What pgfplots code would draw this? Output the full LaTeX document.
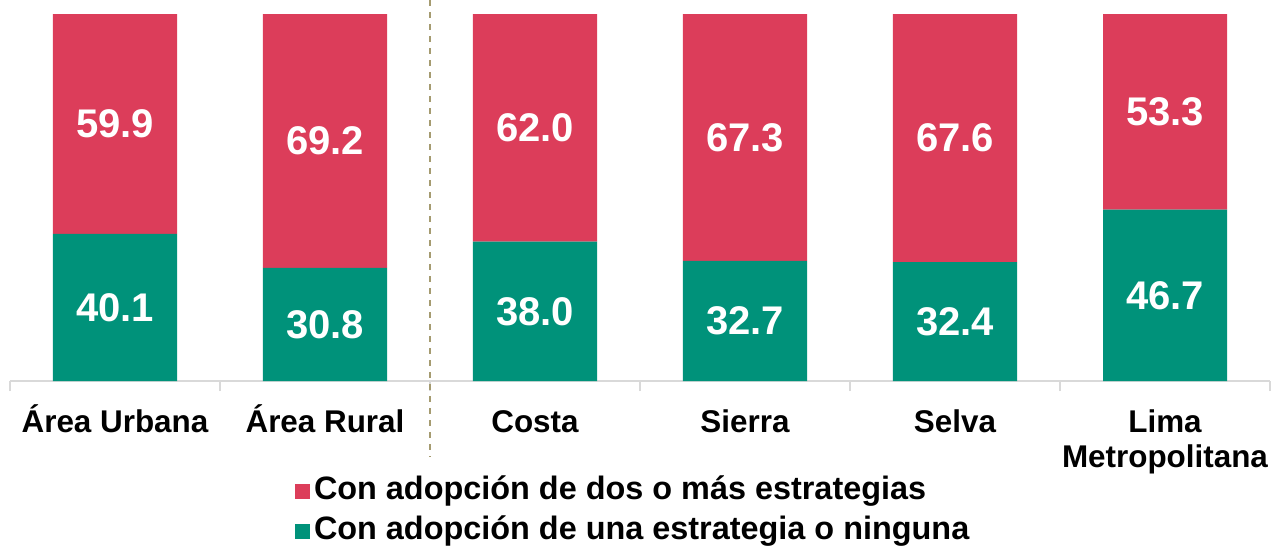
\documentclass[border=0pt]{standalone}
\usepackage{fontspec}
\setmainfont{Liberation Sans}
\usepackage{pgfplots}
\pgfplotsset{compat=1.18}
\definecolor{cred}{RGB}{220,61,90}
\definecolor{cgreen}{RGB}{0,146,122}
\definecolor{cgrey}{RGB}{217,217,217}
\definecolor{cdash}{RGB}{165,155,112}
\pgfplotsset{geom/.style={at={(0,0)}, anchor=south west,
  scale only axis, width=630pt, height=183.5pt,
  xmin=-0.5, xmax=5.5, ymin=0, ymax=100, clip=false}}
\newcommand{\st}{\rule{0pt}{15pt}}
\begin{document}
\begin{tikzpicture}
\path[use as bounding box] (-5pt,-83pt) rectangle (632pt,190.5pt);
\begin{axis}[
  geom,
  ybar stacked, bar width=62pt,
  enlarge x limits=false,
  hide y axis,
  axis x line*=bottom,
  x axis line style={-, draw=cgrey, line width=1pt},
  xtick={0,...,5},
  xticklabels={\st Área Urbana, \st Área Rural, \st Costa, \st Sierra, \st Selva, {\st Lima\\Metropolitana}},
  minor xtick={-0.5,0.5,1.5,2.5,3.5,4.5,5.5},
  major tick length=0pt, minor tick length=5pt,
  tick align=outside,
  minor tick style={draw=cgrey, line width=1pt},
  xticklabel style={font=\fontsize{15.7}{17.5}\selectfont\bfseries, align=center, anchor=north, inner sep=0pt, yshift=-10.5pt, text=black},
  reverse legend,
  legend style={at={(rel axis cs:0.2262,-0.248)}, anchor=north west, draw=none,
     inner sep=0pt, outer sep=0pt, row sep=1pt,
     font=\fontsize{16.2}{17}\selectfont\bfseries,
     nodes={inner sep=2pt, text height=11.5pt, text depth=3.5pt}},
  legend cell align=left,
  legend image code/.code={\fill[#1, draw=none] (0pt,-3.75pt) rectangle (7.5pt,3.75pt);},
]
\addplot[fill=cgreen, draw=none] coordinates {
  (0,40.1) (1,30.8) (2,38.0) (3,32.7) (4,32.4) (5,46.7)
};
\addlegendentry{Con adopción de una estrategia o ninguna}
\addplot[fill=cred, draw=none] coordinates {
  (0,59.9) (1,69.2) (2,62.0) (3,67.3) (4,67.6) (5,53.3)
};
\addlegendentry{Con adopción de dos o más estrategias}
\draw[cdash, line width=1pt, dash pattern=on 3pt off 3pt] (axis cs:1.5,103.8) -- (axis cs:1.5,-20.5);
\end{axis}
\begin{axis}[
  geom, hide axis,
  point meta=explicit symbolic,
  nodes near coords,
  every node near coord/.style={anchor=center, text=white,
     font=\fontsize{20}{20}\selectfont\bfseries},
]
% label positions: centre of each segment
\addplot[draw=none, mark=none] coordinates {
  (0,20.05) [40.1]
  (1,15.40) [30.8]
  (2,19.00) [38.0]
  (3,16.35) [32.7]
  (4,16.20) [32.4]
  (5,23.35) [46.7]
};
\addplot[draw=none, mark=none] coordinates {
  (0,70.05) [59.9]
  (1,65.40) [69.2]
  (2,69.00) [62.0]
  (3,66.35) [67.3]
  (4,66.20) [67.6]
  (5,73.35) [53.3]
};
\end{axis}
\end{tikzpicture}
\end{document}
